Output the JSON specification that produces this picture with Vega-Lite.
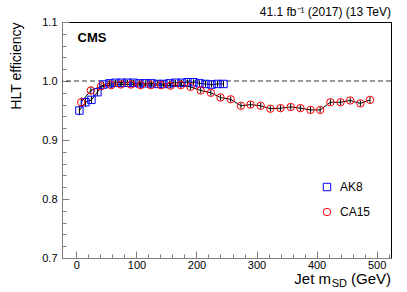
{
  "$schema": "https://vega.github.io/schema/vega-lite/v6.json",
  "width": 329,
  "height": 236,
  "autosize": {"type": "none"},
  "padding": {"left": 62, "top": 22, "right": 16, "bottom": 34},
  "background": "white",
  "config": {
    "font": "Liberation Sans",
    "view": {"stroke": "black", "strokeWidth": 1},
    "axis": {"grid": false, "labelFont": "Liberation Sans", "labelColor": "black", "labelFontSize": 11, "titleFont": "Liberation Sans", "domainColor": "#808080", "tickColor": "#808080"}
  },
  "datasets": {
    "eff": [
      {"series": "AK8", "mass": 5, "eff": 0.950, "err": 0.008},
      {"series": "AK8", "mass": 15, "eff": 0.964, "err": 0.008},
      {"series": "AK8", "mass": 25, "eff": 0.968, "err": 0.007},
      {"series": "AK8", "mass": 35, "eff": 0.981, "err": 0.006},
      {"series": "AK8", "mass": 45, "eff": 0.994, "err": 0.005},
      {"series": "AK8", "mass": 55, "eff": 0.996, "err": 0.005},
      {"series": "AK8", "mass": 65, "eff": 0.997, "err": 0.005},
      {"series": "AK8", "mass": 75, "eff": 0.997, "err": 0.005},
      {"series": "AK8", "mass": 85, "eff": 0.997, "err": 0.005},
      {"series": "AK8", "mass": 95, "eff": 0.997, "err": 0.005},
      {"series": "AK8", "mass": 105, "eff": 0.996, "err": 0.005},
      {"series": "AK8", "mass": 115, "eff": 0.996, "err": 0.005},
      {"series": "AK8", "mass": 125, "eff": 0.996, "err": 0.005},
      {"series": "AK8", "mass": 135, "eff": 0.995, "err": 0.005},
      {"series": "AK8", "mass": 145, "eff": 0.995, "err": 0.005},
      {"series": "AK8", "mass": 155, "eff": 0.996, "err": 0.005},
      {"series": "AK8", "mass": 165, "eff": 0.997, "err": 0.005},
      {"series": "AK8", "mass": 175, "eff": 0.997, "err": 0.005},
      {"series": "AK8", "mass": 185, "eff": 0.998, "err": 0.005},
      {"series": "AK8", "mass": 195, "eff": 0.998, "err": 0.005},
      {"series": "AK8", "mass": 205, "eff": 0.996, "err": 0.005},
      {"series": "AK8", "mass": 215, "eff": 0.995, "err": 0.005},
      {"series": "AK8", "mass": 225, "eff": 0.994, "err": 0.005},
      {"series": "AK8", "mass": 235, "eff": 0.995, "err": 0.005},
      {"series": "AK8", "mass": 245, "eff": 0.995, "err": 0.005},
      {"series": "CA15", "mass": 8, "eff": 0.964, "err": 0.008},
      {"series": "CA15", "mass": 24, "eff": 0.984, "err": 0.006},
      {"series": "CA15", "mass": 41, "eff": 0.991, "err": 0.005},
      {"series": "CA15", "mass": 58, "eff": 0.993, "err": 0.005},
      {"series": "CA15", "mass": 74, "eff": 0.994, "err": 0.005},
      {"series": "CA15", "mass": 91, "eff": 0.994, "err": 0.005},
      {"series": "CA15", "mass": 107, "eff": 0.993, "err": 0.005},
      {"series": "CA15", "mass": 124, "eff": 0.993, "err": 0.005},
      {"series": "CA15", "mass": 141, "eff": 0.993, "err": 0.005},
      {"series": "CA15", "mass": 157, "eff": 0.992, "err": 0.005},
      {"series": "CA15", "mass": 174, "eff": 0.993, "err": 0.005},
      {"series": "CA15", "mass": 190, "eff": 0.990, "err": 0.005},
      {"series": "CA15", "mass": 207, "eff": 0.984, "err": 0.005},
      {"series": "CA15", "mass": 224, "eff": 0.980, "err": 0.005},
      {"series": "CA15", "mass": 240, "eff": 0.972, "err": 0.005},
      {"series": "CA15", "mass": 257, "eff": 0.969, "err": 0.005},
      {"series": "CA15", "mass": 274, "eff": 0.958, "err": 0.005},
      {"series": "CA15", "mass": 290, "eff": 0.960, "err": 0.005},
      {"series": "CA15", "mass": 307, "eff": 0.958, "err": 0.005},
      {"series": "CA15", "mass": 323, "eff": 0.953, "err": 0.005},
      {"series": "CA15", "mass": 340, "eff": 0.954, "err": 0.005},
      {"series": "CA15", "mass": 357, "eff": 0.956, "err": 0.005},
      {"series": "CA15", "mass": 373, "eff": 0.954, "err": 0.005},
      {"series": "CA15", "mass": 390, "eff": 0.951, "err": 0.005},
      {"series": "CA15", "mass": 406, "eff": 0.951, "err": 0.005},
      {"series": "CA15", "mass": 423, "eff": 0.964, "err": 0.005},
      {"series": "CA15", "mass": 440, "eff": 0.964, "err": 0.005},
      {"series": "CA15", "mass": 456, "eff": 0.967, "err": 0.005},
      {"series": "CA15", "mass": 473, "eff": 0.962, "err": 0.005},
      {"series": "CA15", "mass": 489, "eff": 0.968, "err": 0.005}
    ]
  },
  "encoding": {
    "x": {
      "field": "mass", "type": "quantitative",
      "scale": {"domain": [-24, 524], "nice": false, "zero": false},
      "axis": {
        "title": null,
        "values": [0, 20, 40, 60, 80, 100, 120, 140, 160, 180, 200, 220, 240, 260, 280, 300, 320, 340, 360, 380, 400, 420, 440, 460, 480, 500, 520],
        "labelExpr": "datum.value % 100 === 0 ? datum.label : ''",
        "tickSize": {"expr": "datum.value % 100 === 0 ? -7 : -4"},
        "labelPadding": 8
      }
    },
    "y": {
      "field": "eff", "type": "quantitative",
      "scale": {"domain": [0.7, 1.1], "nice": false, "zero": false},
      "axis": {
        "title": "HLT efficiency",
        "titleFontSize": 14,
        "titleFontWeight": "normal",
        "titleColor": "black",
        "titleAngle": 270,
        "titleAlign": "right",
        "titleBaseline": "alphabetic",
        "titleX": -42,
        "titleY": 0,
        "values": [0.7, 0.72, 0.74, 0.76, 0.78, 0.8, 0.82, 0.84, 0.86, 0.88, 0.9, 0.92, 0.94, 0.96, 0.98, 1.0, 1.02, 1.04, 1.06, 1.08, 1.1],
        "labelExpr": "abs(datum.value * 10 - round(datum.value * 10)) < 0.001 ? format(datum.value, '.1f') : ''",
        "tickSize": {"expr": "abs(datum.value * 10 - round(datum.value * 10)) < 0.001 ? -7 : -4"},
        "labelPadding": 12
      }
    }
  },
  "layer": [
    {
      "data": {"values": [{"eff": 1.0}]},
      "mark": {"type": "rule", "color": "black", "strokeDash": [5, 3], "strokeWidth": 0.8},
      "encoding": {"x": null}
    },
    {
      "data": {"name": "eff"},
      "mark": {"type": "line", "color": "black", "strokeWidth": 1},
      "encoding": {"detail": {"field": "series"}}
    },
    {
      "data": {"name": "eff"},
      "mark": {"type": "errorbar", "color": "black", "thickness": 1},
      "encoding": {"yError": {"field": "err"}, "detail": {"field": "series"}}
    },
    {
      "data": {"name": "eff"},
      "mark": {"type": "point", "filled": false, "strokeWidth": 1, "size": 55, "opacity": 1},
      "encoding": {
        "shape": {"field": "series", "type": "nominal", "scale": {"domain": ["AK8", "CA15"], "range": ["square", "circle"]}, "legend": null},
        "color": {
          "field": "series", "type": "nominal",
          "scale": {"domain": ["AK8", "CA15"], "range": ["#0000ff", "#ff0000"]},
          "legend": {
            "title": null, "orient": "none", "legendX": 259, "legendY": 159,
            "symbolType": "square", "labelFontSize": 12, "labelFont": "Liberation Sans", "labelColor": "black",
            "symbolSize": 55, "symbolStrokeWidth": 1, "symbolFillColor": "transparent", "labelOffset": 7, "rowPadding": 13, "padding": 0
          }
        }
      }
    },
    {
      "data": {"values": [{"label": "CMS", "mass": 2, "eff": 1.066}]},
      "mark": {"type": "text", "fontWeight": "bold", "fontSize": 13, "align": "left", "baseline": "alphabetic", "color": "black"},
      "encoding": {"text": {"field": "label"}}
    },
    {
      "data": {"values": [{"label": "41.1 fb⁻¹ (2017) (13 TeV)", "mass": 524, "eff": 1.1}]},
      "mark": {"type": "text", "fontSize": 12, "align": "right", "baseline": "alphabetic", "color": "black", "dy": -6},
      "encoding": {"text": {"field": "label"}}
    },
    {
      "data": {"values": [{"label": "(GeV)", "mass": 524, "eff": 0.7}]},
      "mark": {"type": "text", "fontSize": 15, "align": "right", "baseline": "alphabetic", "color": "black", "dy": 26},
      "encoding": {"text": {"field": "label"}}
    },
    {
      "data": {"values": [{"label": "SD", "mass": 524, "eff": 0.7}]},
      "mark": {"type": "text", "fontSize": 11, "align": "right", "baseline": "alphabetic", "color": "black", "dy": 29, "dx": -44},
      "encoding": {"text": {"field": "label"}}
    },
    {
      "data": {"values": [{"label": "Jet m", "mass": 524, "eff": 0.7}]},
      "mark": {"type": "text", "fontSize": 15, "align": "right", "baseline": "alphabetic", "color": "black", "dy": 26, "dx": -60},
      "encoding": {"text": {"field": "label"}}
    }
  ]
}
